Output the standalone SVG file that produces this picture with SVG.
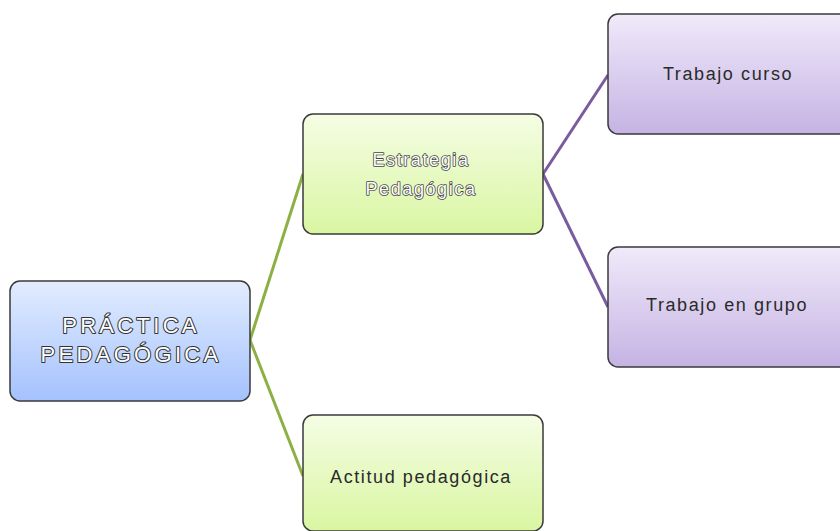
<svg xmlns="http://www.w3.org/2000/svg" width="840" height="531" viewBox="0 0 840 531">
<defs>
<linearGradient id="gBlue" x1="0" y1="0" x2="0" y2="1"><stop offset="0" stop-color="#e2ecff"/><stop offset="1" stop-color="#a4c2fd"/></linearGradient>
<linearGradient id="gGreen" x1="0" y1="0" x2="0" y2="1"><stop offset="0" stop-color="#f5fde4"/><stop offset="1" stop-color="#d9f6a2"/></linearGradient>
<linearGradient id="gPurple" x1="0" y1="0" x2="0" y2="1"><stop offset="0" stop-color="#f0eafa"/><stop offset="1" stop-color="#c5b3e3"/></linearGradient>
</defs>
<style>
.box{stroke:#3a3a3a;stroke-width:1.5}
.t{font-family:"Liberation Sans",Arial,sans-serif;font-size:18px;letter-spacing:1.6px;fill:#2a2a2a;text-anchor:middle}
.tw{font-family:"Liberation Sans",Arial,sans-serif;font-size:18px;letter-spacing:1.6px;fill:#ffffff;stroke:#444;stroke-width:1.6;paint-order:stroke;stroke-linejoin:round;text-anchor:middle}
.root{font-family:"Liberation Sans",Arial,sans-serif;font-size:22px;fill:#ffffff;stroke:#333;stroke-width:2;paint-order:stroke;stroke-linejoin:round;text-anchor:middle;letter-spacing:3.3px}
.cg{stroke:#8db044;stroke-width:3;fill:none}
.cp{stroke:#7a5b9e;stroke-width:3;fill:none}
</style>
<g id="connectors">
<line class="cg" x1="250" y1="340" x2="303" y2="174"/>
<line class="cg" x1="250" y1="340" x2="303" y2="476"/>
<line class="cp" x1="543" y1="174" x2="608" y2="75"/>
<line class="cp" x1="543" y1="174" x2="608" y2="307"/>
</g>
<g id="practica">
<rect class="box" x="10" y="281" width="240" height="120" rx="10" fill="url(#gBlue)"/>
<text class="root" x="131" y="333">PRÁCTICA</text>
<text class="root" x="131" y="362">PEDAGÓGICA</text>
</g>
<g id="estrategia">
<rect class="box" x="303" y="114" width="240" height="120" rx="10" fill="url(#gGreen)"/>
<text class="tw" x="421" y="166">Estrategia</text>
<text class="tw" x="421" y="195">Pedagógica</text>
</g>
<g id="actitud">
<rect class="box" x="303" y="415" width="240" height="116" rx="10" fill="url(#gGreen)"/>
<text class="t" x="421" y="483">Actitud pedagógica</text>
</g>
<g id="curso">
<rect class="box" x="608" y="14" width="250" height="120" rx="10" fill="url(#gPurple)"/>
<text class="t" x="728" y="80">Trabajo curso</text>
</g>
<g id="grupo">
<rect class="box" x="608" y="247" width="250" height="120" rx="10" fill="url(#gPurple)"/>
<text class="t" x="727" y="311">Trabajo en grupo</text>
</g>
</svg>
